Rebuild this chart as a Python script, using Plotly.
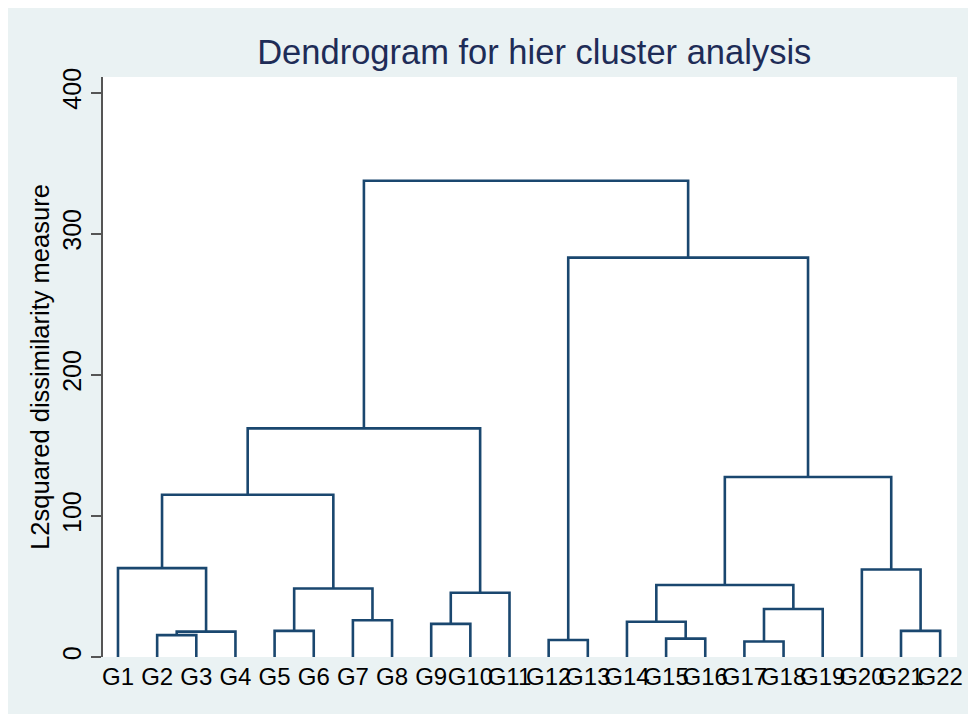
import plotly.graph_objects as go

# Leaves in dendrogram order
labels = [f"G{i}" for i in range(1, 23)]

# Merges: (left, right, height); "Gn" refers to a leaf, "mN" to an earlier merge
left = ["G2", "m0", "G1", "G5", "G7", "m3", "m2", "G9", "m7", "m6",
        "G12", "G15", "G14", "G17", "m13", "m12", "G21", "G20", "m15", "m10", "m9"]
right = ["G3", "G4", "m1", "G6", "G8", "m4", "m5", "G10", "G11", "m8",
         "G13", "G16", "m11", "G18", "G19", "m14", "G22", "m16", "m17", "m18", "m19"]
heights = [15.5, 18, 63, 18.5, 26, 48.5, 115, 23.5, 45.5, 162,
           12, 13, 25, 11, 34, 51, 18.5, 62, 127.5, 283, 337.5]

y_ticks = [0, 100, 200, 300, 400]

NAVY = "#1A476F"
BG = "#EAF2F3"
FONT = "Liberation Sans, Arial, sans-serif"

# positions of nodes: leaves at 1..22, merges at midpoint of their children
pos = {lab: (i + 1, 0.0) for i, lab in enumerate(labels)}
xs, ys = [], []
for k, (a, b, h) in enumerate(zip(left, right, heights)):
    xa, ha = pos[a]
    xb, hb = pos[b]
    xs += [xa, xa, xb, xb, None]
    ys += [ha, h, h, hb, None]
    pos[f"m{k}"] = ((xa + xb) / 2, h)

fig = go.Figure()
fig.add_trace(go.Scatter(x=xs, y=ys, mode="lines",
                         line=dict(color=NAVY, width=2.6),
                         hoverinfo="skip", showlegend=False))

# page body has an 8px margin, so the figure is 8px smaller than the window
W, H = 968, 706
ml, mr, mt, mb = 95, 19, 69, 57

fig.update_layout(
    width=W, height=H,
    margin=dict(l=ml, r=mr, t=mt, b=mb, autoexpand=False),
    paper_bgcolor=BG, plot_bgcolor="white",
    font=dict(family=FONT, color="black"),
    title=dict(text="Dendrogram for hier cluster analysis",
               font=dict(size=34.5, color="#1E2C57", family=FONT),
               x=0.505, xref="paper", xanchor="center",
               y=1 - 44 / H, yref="container", yanchor="middle"),
    xaxis=dict(range=[0.617, 22.43], tickvals=list(range(1, 23)), ticktext=labels,
               tickangle=0, showline=False, ticks="", showgrid=False, zeroline=False,
               automargin=False,
               tickfont=dict(size=24, color="black"), ticklabelstandoff=3),
    yaxis=dict(range=[0, 411], tickvals=y_ticks, tickangle=-90,
               ticks="outside", ticklen=10, tickwidth=1.5, tickcolor="#555555",
               showline=True, linecolor="#555555", linewidth=1.5,
               showgrid=False, zeroline=False, automargin=False,
               tickfont=dict(size=25, color="black"), ticklabelstandoff=0,
               title=dict(text="L2squared dissimilarity measure",
                          font=dict(size=25.5, color="black"), standoff=1)),
)

fig.write_html("out.html")
